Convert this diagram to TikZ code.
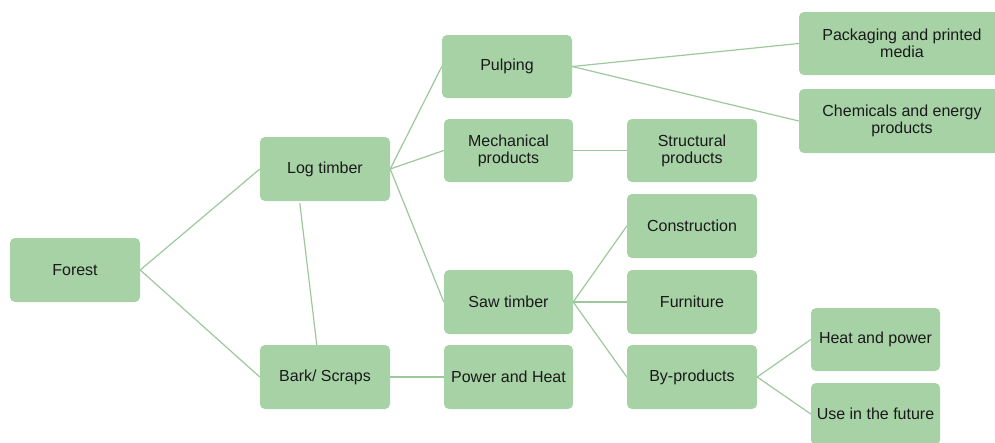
\documentclass[tikz,border=0pt]{standalone}
\usepackage{fontspec}
\setmainfont{Liberation Sans}
\usetikzlibrary{calc}
\definecolor{boxfill}{RGB}{166,210,165}
\definecolor{linkcol}{RGB}{158,200,156}
\definecolor{txt}{RGB}{26,26,26}
\tikzset{
  box/.style={rectangle, rounded corners=5pt, fill=boxfill, draw=none, inner sep=0pt,
    text=txt, align=center, font=\fontsize{16}{17}\selectfont,
    minimum width=130pt, minimum height=64pt},
  link/.style={draw=linkcol, line width=1.2pt}
}
\begin{document}
\begin{tikzpicture}[x=1pt,y=-1pt]
\useasboundingbox (0,0) rectangle (995,442);
\node[box] (forest) at (75,270) {Forest};
\node[box] (log) at (325,169) {Log timber};
\node[box] (bark) at (325,377) {Bark/ Scraps};
\node[box, minimum height=63pt] (pulp) at (507,66.5) {Pulping};
\node[box, minimum width=129pt, minimum height=63pt] (mech) at (508.5,150.5) {Mechanical\\products};
\node[box, minimum width=129pt] (saw) at (508.5,302) {Saw timber};
\node[box, minimum width=129pt] (power) at (508.5,377) {Power and Heat};
\node[box, minimum width=206pt, minimum height=63pt] (pack) at (902,43.5) {Packaging and printed\\media};
\node[box, minimum width=206pt] (chem) at (902,121) {Chemicals and energy\\products};
\node[box, minimum height=63pt] (struct) at (692,150.5) {Structural\\products};
\node[box] (constr) at (692,226) {Construction};
\node[box] (furn) at (692,302) {Furniture};
\node[box] (byp) at (692,377) {By-products};
\node[box, minimum width=129pt, minimum height=63pt] (heat) at (875.5,339.5) {Heat and power};
\node[box, minimum width=129pt, minimum height=62pt] (use) at (875.5,414) {Use in the future};

\draw[link] (forest.east) -- (log.west);
\draw[link] (forest.east) -- (bark.west);
\draw[link] ($(log.south west)+(40,2)$) -- ($(bark.north west)+(57,0)$);
\draw[link] (log.east) -- (pulp.west);
\draw[link] (log.east) -- (mech.west);
\draw[link] (log.east) -- (saw.west);
\draw[link] (pulp.east) -- (pack.west);
\draw[link] (pulp.east) -- (chem.west);
\draw[link] (mech.east) -- (struct.west);
\draw[link] (saw.east) -- (constr.west);
\draw[link] (saw.east) -- (furn.west);
\draw[link] (saw.east) -- (byp.west);
\draw[link] (bark.east) -- (power.west);
\draw[link] (byp.east) -- (heat.west);
\draw[link] (byp.east) -- (use.west);
\end{tikzpicture}
\end{document}
